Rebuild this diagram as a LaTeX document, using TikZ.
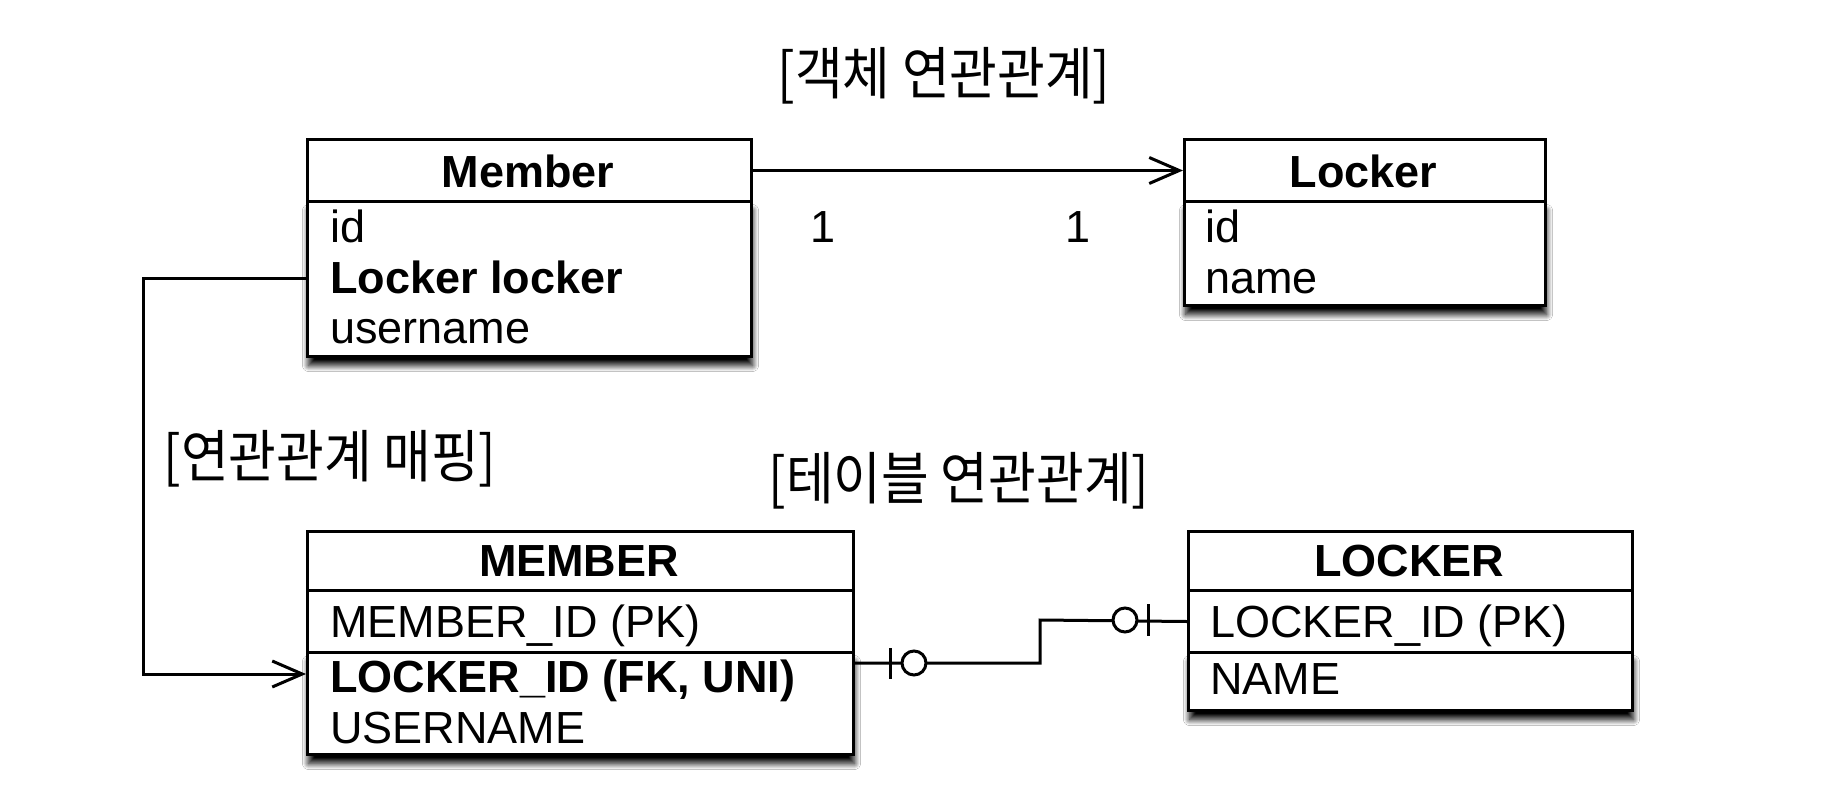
\documentclass[tikz,border=0pt]{standalone}
\usepackage{fontspec}
\setmainfont{Liberation Sans}
\newfontfamily\kr[FakeStretch=0.91]{Noto Sans CJK KR}
\usetikzlibrary{arrows.meta,shadows.blur}
\begin{document}
\begin{tikzpicture}[x=1pt,y=-1pt,
  boxpart/.style={draw, line width=3pt, fill=white, anchor=north west, inner sep=0pt},
  shad/.style={blur shadow={shadow xshift=1pt, shadow yshift=-9pt, shadow blur radius=6pt, shadow blur steps=12, shadow opacity=100}},
  txt/.style={anchor=base west, inner sep=0pt, font=\fontsize{45}{54}\selectfont},
  btxt/.style={anchor=base west, inner sep=0pt, font=\fontsize{45}{54}\selectfont\bfseries},
  headtxt/.style={anchor=base, inner sep=0pt, font=\fontsize{45}{54}\selectfont\bfseries},
  numtxt/.style={anchor=base, inner sep=0pt, font=\fontsize{45}{54}\selectfont},
  krtxt/.style={inner sep=0pt, font=\kr\fontsize{57}{64}\selectfont},
  conn/.style={line width=3pt},
  arr/.style={conn, -{Straight Barb[length=30pt,width=26pt,line width=3pt]}},
  erbar/.style={line width=3pt},
  ercirc/.style={line width=3pt, fill=white}
]
\fill[white] (0,0) rectangle (1830,808);
\useasboundingbox (0,0) rectangle (1830,808);

% ---------- object model ----------
\node[boxpart, minimum width=444pt, minimum height=62pt] (memberHead) at (306,138) {};
\node[boxpart, shad, minimum width=444pt, minimum height=155pt] (memberBody) at (306,200) {};
\node[boxpart, minimum width=444pt, minimum height=62pt] at (306,138) {};

\node[boxpart, minimum width=361pt, minimum height=62pt] (lockerHead) at (1183,138) {};
\node[boxpart, shad, minimum width=361pt, minimum height=104pt] (lockerBody) at (1183,200) {};
\node[boxpart, minimum width=361pt, minimum height=62pt] at (1183,138) {};

\node[headtxt] (tMember) at (528,187) {Member};
\node[txt] (tMid) at (330,242) {id};
\node[btxt] (tMlocker) at (330,293) {Locker locker};
\node[txt] (tMuser) at (330,343) {username};

\node[headtxt] (tLocker) at (1363.5,187) {Locker};
\node[txt] (tLid) at (1205,242) {id};
\node[txt] (tLname) at (1205,293) {name};

\node[numtxt] (one1) at (823,242) {1};
\node[numtxt] (one2) at (1078,242) {1};

\draw[arr] (memberHead.east) -- (lockerHead.west);

% ---------- tables ----------
\node[boxpart, minimum width=546pt, minimum height=59pt] (MEMBERHead) at (306,530) {};
\node[boxpart, minimum width=546pt, minimum height=62pt] (MEMBERPK) at (306,589) {};
\node[boxpart, shad, minimum width=546pt, minimum height=102pt] (MEMBERFK) at (306,651) {};
\node[boxpart, minimum width=546pt, minimum height=62pt] at (306,589) {};

\node[boxpart, minimum width=444pt, minimum height=59pt] (LOCKERHead) at (1187,530) {};
\node[boxpart, minimum width=444pt, minimum height=62pt] (LOCKERPK) at (1187,589) {};
\node[boxpart, shad, minimum width=444pt, minimum height=58pt] (LOCKERName) at (1187,651) {};
\node[boxpart, minimum width=444pt, minimum height=62pt] at (1187,589) {};

\node[headtxt] (tMEMBER) at (579,576) {MEMBER};
\node[txt] (tMEMBERid) at (330,637) {MEMBER\_ID (PK)};
\node[btxt] (tMEMBERfk) at (330,692) {LOCKER\_ID (FK, UNI)};
\node[txt] (tMEMBERuser) at (330,743) {USERNAME};

\node[headtxt] (tLOCKER) at (1409,576) {LOCKER};
\node[txt] (tLOCKERid) at (1210,637) {LOCKER\_ID (PK)};
\node[txt] (tLOCKERname) at (1210,694) {NAME};

% ---------- titles ----------
\node[krtxt] (title1) at (944,76) {[객체 연관관계]};
\node[krtxt] (title2) at (330,459) {[연관관계 매핑]};
\node[krtxt] (title3) at (959,481) {[테이블 연관관계]};

% ---------- mapping connector ----------
\coordinate (b1) at (143,278);
\coordinate (b2) at (143,674);
\draw[arr] (memberBody.west |- b1) -- (b1) -- (b2) -- (MEMBERFK.west |- b2);

% ---------- ER connector ----------
\coordinate (e1) at (1040,663);
\coordinate (e2) at (1040,620);
\draw[conn] (MEMBERFK.east |- e1) -- (e1) -- (e2) -- (LOCKERPK.west);
\draw[erbar] (890,648) -- (890,679);
\draw[ercirc] (914,663) circle (12pt);
\draw[erbar] (1148,604) -- (1148,636);
\draw[ercirc] (1125,620) circle (12pt);
\end{tikzpicture}
\end{document}
